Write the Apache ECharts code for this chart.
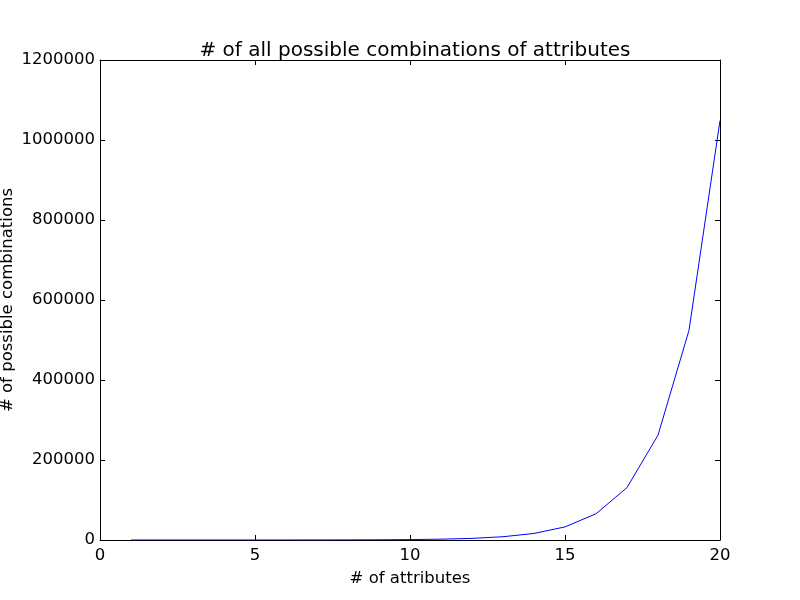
<!DOCTYPE html>
<html>
<head>
<meta charset="utf-8">
<script src="https://cdn.jsdelivr.net/npm/echarts@6/dist/echarts.min.js"></script>
<style>
  html, body { margin: 0; padding: 0; background: #fff; }
  #main { width: 800px; height: 600px; }
</style>
</head>
<body>
<div id="main"></div>
<script>
// data
const attributes = [1, 2, 3, 4, 5, 6, 7, 8, 9, 10, 11, 12, 13, 14, 15, 16, 17, 18, 19, 20];
const combinations = [1, 3, 7, 15, 31, 63, 127, 255, 511, 1023, 2047, 4095, 8191, 16383,
  32767, 65535, 131071, 262143, 524287, 1048575];
const xTicks = [0, 5, 10, 15, 20];
const yTicks = [0, 200000, 400000, 600000, 800000, 1000000, 1200000];

const chart = echarts.init(document.getElementById('main'));
const font = 'DejaVu Sans';

const tick = { show: true, inside: true, length: 5, lineStyle: { color: '#000' } };
const line = { show: true, onZero: false, lineStyle: { color: '#000', width: 1 } };

chart.setOption({
  animation: false,
  textStyle: { fontFamily: font },
  title: {
    text: '# of all possible combinations of attributes',
    left: 410, top: 36, textAlign: 'center',
    textStyle: { fontFamily: font, fontSize: 20, fontWeight: 'normal', color: '#000' }
  },
  grid: { left: 100, right: 80, top: 60, bottom: 60, containLabel: false, outerBoundsMode: 'none' },
  xAxis: [{
    type: 'value', min: xTicks[0], max: xTicks[xTicks.length - 1], interval: 5,
    name: '# of attributes', nameLocation: 'middle', nameGap: 30, nameMoveOverlap: false,
    nameTextStyle: { fontFamily: font, fontSize: 16.5, color: '#000' },
    axisLine: line, axisTick: tick, splitLine: { show: false },
    axisLabel: { fontFamily: font, fontSize: 16.5, color: '#000', margin: 7 }
  }, {
    type: 'value', position: 'top', min: xTicks[0], max: xTicks[xTicks.length - 1], interval: 5,
    axisLine: line, axisTick: tick, splitLine: { show: false }, axisLabel: { show: false }
  }],
  yAxis: [{
    type: 'value', min: yTicks[0], max: yTicks[yTicks.length - 1], interval: 200000,
    name: '# of possible combinations', nameLocation: 'middle', nameGap: 84, nameMoveOverlap: false,
    nameTextStyle: { fontFamily: font, fontSize: 16.5, color: '#000' },
    axisLine: line, axisTick: tick, splitLine: { show: false },
    axisLabel: { fontFamily: font, fontSize: 16.5, color: '#000', margin: 5, formatter: v => String(v) }
  }, {
    type: 'value', position: 'right', min: yTicks[0], max: yTicks[yTicks.length - 1], interval: 200000,
    axisLine: line, axisTick: tick, splitLine: { show: false }, axisLabel: { show: false }
  }],
  series: [{
    type: 'line',
    data: attributes.map((a, i) => [a, combinations[i]]),
    showSymbol: false,
    lineStyle: { color: '#0000ff', width: 1 },
    itemStyle: { color: '#0000ff' }
  }]
});
</script>
</body>
</html>
